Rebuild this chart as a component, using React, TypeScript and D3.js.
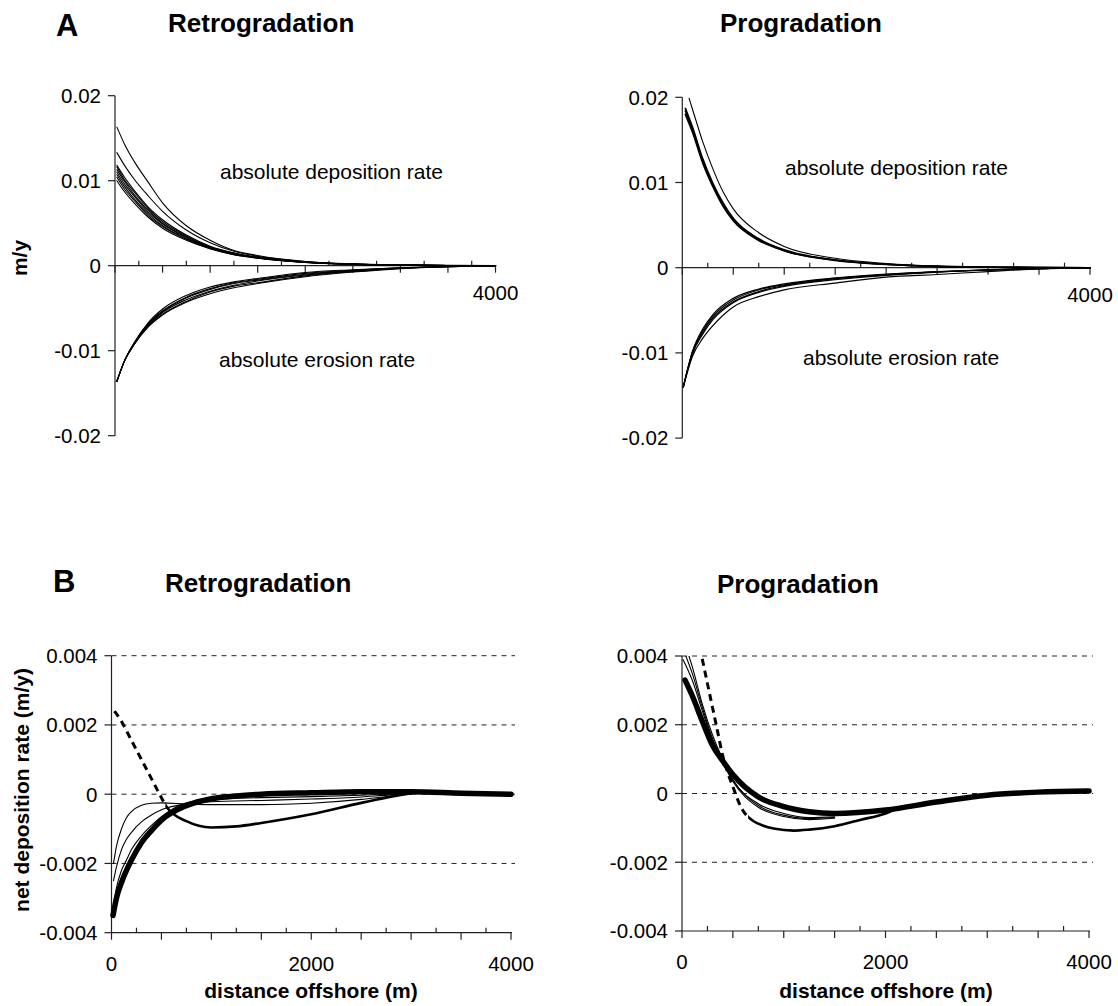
import * as d3 from "d3";
import React from "react";

const FONT = "'Liberation Sans', Arial, Helvetica, sans-serif";
const W = 1118;
const H = 1006;

// ---------- A: absolute rates (m/y) ----------
// retrogradation, deposition
const retroDepX = [20, 100, 200, 350, 500, 750, 1000, 1250, 1500, 2000, 2500, 3000, 3500, 4000];
const retroDep = [
  [0.0163, 0.0143, 0.0123, 0.0098, 0.0074, 0.0047, 0.003, 0.0018, 0.0012, 0.0005, 0.00022, 0.0001, 0.00004, 0.00001],
  [0.0133, 0.0118, 0.0102, 0.0082, 0.0064, 0.0042, 0.0027, 0.0017, 0.0011, 0.0005, 0.0002, 0.00009, 0.00003, 0.00001],
  [0.0118, 0.0104, 0.0089, 0.0069, 0.0054, 0.0036, 0.0023, 0.0015, 0.001, 0.00044, 0.00019, 0.00008, 0.00003, 0],
  [0.0116, 0.0101, 0.0087, 0.0067, 0.0052, 0.0035, 0.0022, 0.0015, 0.00097, 0.00042, 0.00018, 0.00008, 0.00003, 0],
  [0.0113, 0.0099, 0.0084, 0.0065, 0.005, 0.0034, 0.0022, 0.0014, 0.00095, 0.00041, 0.00018, 0.00008, 0.00003, 0],
  [0.011, 0.0096, 0.0082, 0.0063, 0.0049, 0.0033, 0.0021, 0.0014, 0.00093, 0.0004, 0.00017, 0.00008, 0.00003, 0],
  [0.0107, 0.0093, 0.0079, 0.0061, 0.0047, 0.0032, 0.0021, 0.0014, 0.0009, 0.0004, 0.00017, 0.00007, 0.00003, 0],
  [0.0104, 0.009, 0.0077, 0.0059, 0.0046, 0.0031, 0.002, 0.0013, 0.0009, 0.00039, 0.00016, 0.00007, 0.00002, 0],
  [0.01, 0.0087, 0.0074, 0.0057, 0.0044, 0.003, 0.002, 0.0013, 0.00088, 0.00038, 0.00016, 0.00007, 0.00002, 0],
];
// retrogradation, erosion
const retroEro = [
  [-0.0136, -0.0112, -0.0091, -0.0067, -0.0051, -0.0035, -0.0025, -0.0019, -0.0015, -0.0008, -0.00048, -0.00024, -0.0001, 0],
  [-0.0136, -0.0112, -0.0091, -0.0068, -0.0053, -0.0037, -0.0027, -0.002, -0.0016, -0.0009, -0.00053, -0.00026, -0.0001, 0],
  [-0.0136, -0.0112, -0.0092, -0.0069, -0.0054, -0.0038, -0.0028, -0.0021, -0.0017, -0.001, -0.00058, -0.00028, -0.00011, 0],
  [-0.0136, -0.0112, -0.0092, -0.007, -0.0055, -0.004, -0.003, -0.0023, -0.0018, -0.0011, -0.00064, -0.0003, -0.00011, 0],
  [-0.0136, -0.0112, -0.0093, -0.0071, -0.0057, -0.0042, -0.0031, -0.0024, -0.002, -0.0012, -0.0007, -0.00032, -0.00012, 0],
  [-0.0136, -0.0112, -0.0093, -0.0072, -0.0058, -0.0043, -0.0033, -0.0026, -0.0021, -0.0013, -0.00075, -0.00034, -0.00012, 0],
];
// progradation, deposition
const progDepX = [30, 100, 200, 300, 400, 500, 750, 1000, 1500, 2000, 2500, 3000, 3500, 4000];
const progDep = [
  [0.0187, 0.0165, 0.0128, 0.0099, 0.0076, 0.0058, 0.0034, 0.0021, 0.0009, 0.0004, 0.00015, 0.00006, 0.00002, 0],
  [0.0184, 0.0162, 0.0126, 0.0097, 0.0074, 0.0057, 0.0033, 0.002, 0.0009, 0.0004, 0.00015, 0.00006, 0.00002, 0],
  [0.018, 0.0159, 0.0123, 0.0095, 0.0072, 0.0055, 0.0032, 0.002, 0.00085, 0.00038, 0.00014, 0.00005, 0.00002, 0],
];
const progDepThinX = [66, 100, 200, 300, 400, 500, 750, 1000, 1500, 2000, 2500, 3000, 3500, 4000];
const progDepThin = [0.0199, 0.0186, 0.0148, 0.0116, 0.0089, 0.0069, 0.0041, 0.0025, 0.0011, 0.0005, 0.0002, 0.00007, 0.00002, 0];
// progradation, erosion
const progEroX = [10, 100, 200, 300, 500, 750, 1000, 1500, 2000, 2500, 3000, 3500, 4000];
const progEro = [
  [-0.014, -0.0098, -0.0072, -0.0055, -0.0036, -0.0025, -0.0019, -0.0012, -0.00075, -0.00045, -0.00024, -0.0001, 0],
  [-0.014, -0.0099, -0.0074, -0.0057, -0.0038, -0.0026, -0.002, -0.00125, -0.0008, -0.00048, -0.00025, -0.0001, 0],
  [-0.014, -0.01, -0.0076, -0.0059, -0.004, -0.0028, -0.0021, -0.0013, -0.00085, -0.0005, -0.00027, -0.0001, 0],
  [-0.014, -0.0101, -0.0078, -0.0061, -0.0041, -0.0029, -0.0022, -0.0014, -0.0009, -0.00052, -0.00028, -0.0001, 0],
  [-0.014, -0.0104, -0.0083, -0.0068, -0.0046, -0.0034, -0.0026, -0.0018, -0.0011, -0.0008, -0.00045, -0.00015, 0],
];

// ---------- B: net deposition rate (m/y) ----------
const retroNetX = [15, 50, 100, 200, 300, 400, 500, 750, 1000, 1250, 1500, 2000, 2500, 3000, 3500, 4000];
const retroNetThick = [-0.0035, -0.003, -0.00255, -0.0019, -0.0014, -0.00105, -0.00075, -0.00033, -0.00013, -0.00005, 0, 0.00004, 0.00007, 0.00007, 0.00003, 0];
const retroThinX = [20, 50, 100, 150, 200, 300, 400, 500, 750, 1000, 1500, 2000, 2500, 2800, 3000];
const retroThin = [
  [-0.002, -0.0015, -0.001, -0.00068, -0.0005, -0.00032, -0.00026, -0.00025, -0.00028, -0.0003, -0.0003, -0.00026, -0.00015, -0.00005, 0],
  [-0.0025, -0.0021, -0.0016, -0.0013, -0.0011, -0.0008, -0.0006, -0.00045, -0.00028, -0.00022, -0.00018, -0.00014, -0.00008, -0.00002, 0],
  [-0.0032, -0.0027, -0.0022, -0.0019, -0.0016, -0.0012, -0.0009, -0.00065, -0.00025, -0.00015, -0.0001, -0.00007, -0.00003, 0, 0],
];
// dashed near shore, solid further out
const retroDipX = [30, 100, 200, 300, 400, 500, 560, 750, 1000, 1250, 1500, 2000, 2500, 2750, 3000];
const retroDip = [0.0024, 0.0021, 0.00155, 0.001, 0.00045, -0.0001, -0.0004, -0.00078, -0.00096, -0.00093, -0.00083, -0.00058, -0.00025, -0.0001, 0.00003];

const progNetX = [30, 100, 200, 300, 400, 500, 750, 1000, 1250, 1500, 2000, 2500, 3000, 3500, 4000];
const progNetThick = [0.0033, 0.00285, 0.0021, 0.0014, 0.00095, 0.00055, -0.0001, -0.00038, -0.00053, -0.00058, -0.00048, -0.00025, -0.00005, 0.00004, 0.00007];
const progThinX = [10, 100, 200, 300, 400, 500, 750, 1000, 1250, 1500];
const progThin = [
  [0.0045, 0.0037, 0.0026, 0.0017, 0.001, 0.0004, -0.0003, -0.00058, -0.0007, -0.00068],
  [0.0042, 0.0035, 0.0025, 0.0016, 0.00095, 0.0004, -0.00035, -0.00063, -0.00073, -0.0007],
  [0.0039, 0.0033, 0.0024, 0.00155, 0.0009, 0.00035, -0.0004, -0.00067, -0.00076, -0.00072],
];
const progDipX = [150, 250, 300, 350, 400, 450, 500, 550, 600, 650, 700, 800, 900, 1100, 1250, 1500, 1750, 2000, 2100];
const progDip = [0.0046, 0.0032, 0.0025, 0.0018, 0.0011, 0.0006, 0.0002, -0.0002, -0.0005, -0.00068, -0.0008, -0.00094, -0.00102, -0.00108, -0.00105, -0.00095, -0.00077, -0.00058, -0.00046];

const absTicks = [0.02, 0.01, 0, -0.01, -0.02];
const netTicks = [0.004, 0.002, 0, -0.002, -0.004];
const netGrid = [0.004, 0.002, 0, -0.002];
const xMinor = d3.range(0, 4001, 250);

type Line = { xs: number[]; ys: number[]; w: number; dashUntil?: number };

type PanelProps = {
  id: string;
  x0: number;
  x1: number;
  yTop: number;
  yBot: number;
  yMax: number;
  yMin: number;
  yTicks: number[];
  fmt: (v: number) => string;
  xLabels: number[];
  xLabelDy: number;
  axisAtZero: boolean;
  grid: number[];
  lines: Line[];
};

const fmtAbs = (v: number) => (v === 0 ? "0" : d3.format(".2f")(v).replace("−", "-"));
const fmtNet = (v: number) => (v === 0 ? "0" : d3.format(".3f")(v).replace("−", "-"));

const Panel = (p: PanelProps) => {
  const x = d3.scaleLinear().domain([0, 4000]).range([p.x0, p.x1]);
  const y = d3.scaleLinear().domain([p.yMin, p.yMax]).range([p.yBot, p.yTop]);
  const axisY = p.axisAtZero ? y(0) : y(p.yMin);
  const line = d3
    .line<[number, number]>()
    .x((d) => x(d[0]))
    .y((d) => y(d[1]))
    .curve(d3.curveMonotoneX);

  return (
    <g>
      <defs>
        <clipPath id={p.id}>
          <rect x={p.x0 - 2} y={p.yTop} width={p.x1 - p.x0 + 12} height={p.yBot - p.yTop} />
        </clipPath>
        {p.lines.map((l, i) =>
          l.dashUntil !== undefined ? (
            <React.Fragment key={"c" + i}>
              <clipPath id={`${p.id}-d${i}`}>
                <rect x={p.x0 - 10} y={0} width={x(l.dashUntil) - p.x0 + 10} height={H} />
              </clipPath>
              <clipPath id={`${p.id}-s${i}`}>
                <rect x={x(l.dashUntil)} y={0} width={p.x1 - x(l.dashUntil) + 20} height={H} />
              </clipPath>
            </React.Fragment>
          ) : null
        )}
      </defs>
      {/* dashed gridlines */}
      {p.grid.map((g) => (
        <line key={"g" + g} x1={p.x0} x2={p.x1 + 4} y1={y(g)} y2={y(g)} stroke="#222" strokeWidth={1} strokeDasharray="5,5" />
      ))}
      {/* y axis */}
      <line x1={p.x0} x2={p.x0} y1={y(p.yMax)} y2={y(p.yMin)} stroke="#222" strokeWidth={1.2} />
      {p.yTicks.map((t) => (
        <g key={"yt" + t}>
          <line x1={p.x0 - 7} x2={p.x0} y1={y(t)} y2={y(t)} stroke="#222" strokeWidth={1.2} />
          <text x={p.x0 - 14} y={y(t)} dy="0.36em" textAnchor="end" fontSize={20.5} fontFamily={FONT}>
            {p.fmt(t)}
          </text>
        </g>
      ))}
      {/* x axis */}
      <line x1={p.x0} x2={p.x1 + 1} y1={axisY} y2={axisY} stroke="#222" strokeWidth={1.2} />
      {xMinor.map((v) =>
        v % 500 === 0 ? (
          <line key={"xt" + v} x1={x(v)} x2={x(v)} y1={axisY} y2={axisY + 7} stroke="#222" strokeWidth={1.2} />
        ) : (
          <line key={"xt" + v} x1={x(v)} x2={x(v)} y1={axisY - 5} y2={axisY} stroke="#222" strokeWidth={1.2} />
        )
      )}
      {p.xLabels.map((v) => (
        <text key={"xl" + v} x={x(v)} y={axisY + p.xLabelDy} textAnchor="middle" fontSize={20.5} fontFamily={FONT}>
          {v}
        </text>
      ))}
      {/* curves */}
      <g clipPath={`url(#${p.id})`}>
        {p.lines.map((l, i) => {
          const d = line(l.xs.map((xv, j) => [xv, l.ys[j]] as [number, number])) || "";
          if (l.dashUntil === undefined) {
            return (
              <path key={"l" + i} d={d} fill="none" stroke="#000" strokeWidth={l.w}
                strokeLinecap="round" strokeLinejoin="round" />
            );
          }
          return (
            <g key={"l" + i}>
              <path d={d} fill="none" stroke="#000" strokeWidth={3} strokeDasharray="7,5"
                clipPath={`url(#${p.id}-d${i})`} />
              <path d={d} fill="none" stroke="#000" strokeWidth={l.w} strokeLinecap="round"
                clipPath={`url(#${p.id}-s${i})`} />
            </g>
          );
        })}
      </g>
    </g>
  );
};

const bold = { fontFamily: FONT, fontWeight: 700 } as const;
const plain = { fontFamily: FONT } as const;

export default function App() {
  const tlLines: Line[] = [
    ...retroDep.map((ys) => ({ xs: retroDepX, ys, w: 1.1 })),
    ...retroEro.map((ys) => ({ xs: retroDepX, ys, w: 1.1 })),
  ];
  const trLines: Line[] = [
    ...progDep.map((ys) => ({ xs: progDepX, ys, w: 1.6 })),
    { xs: progDepThinX, ys: progDepThin, w: 1.1 },
    ...progEro.map((ys) => ({ xs: progEroX, ys, w: 1.2 })),
  ];
  const blLines: Line[] = [
    ...retroThin.map((ys) => ({ xs: retroThinX, ys, w: 1.1 })),
    { xs: retroDipX, ys: retroDip, w: 2.6, dashUntil: 540 },
    { xs: retroNetX, ys: retroNetThick, w: 5.5 },
  ];
  const brLines: Line[] = [
    ...progThin.map((ys) => ({ xs: progThinX, ys, w: 1.1 })),
    { xs: progDipX, ys: progDip, w: 2.6, dashUntil: 650 },
    { xs: progNetX, ys: progNetThick, w: 5.5 },
  ];

  return (
    <svg width={W} height={H} style={{ position: "absolute", left: 0, top: 0, background: "#fff" }}>
      <rect width={W} height={H} fill="#fff" />

      {/* panel titles */}
      <text x={56} y={36} fontSize={31} {...bold}>A</text>
      <text x={168} y={32} fontSize={26} {...bold}>Retrogradation</text>
      <text x={720} y={32} fontSize={26} {...bold}>Progradation</text>
      <text x={53} y={592} fontSize={31} {...bold}>B</text>
      <text x={165} y={592} fontSize={26} {...bold}>Retrogradation</text>
      <text x={717} y={593} fontSize={26} {...bold}>Progradation</text>

      <Panel
        id="clipTL"
        x0={115}
        x1={495.5}
        yTop={95.7}
        yBot={435.7}
        yMax={0.02}
        yMin={-0.02}
        yTicks={absTicks}
        fmt={fmtAbs}
        xLabels={[4000]}
        xLabelDy={34}
        axisAtZero={true}
        grid={[]}
        lines={tlLines}
      />
      <Panel
        id="clipTR"
        x0={682.3}
        x1={1090}
        yTop={97.3}
        yBot={438.1}
        yMax={0.02}
        yMin={-0.02}
        yTicks={absTicks}
        fmt={fmtAbs}
        xLabels={[4000]}
        xLabelDy={34}
        axisAtZero={true}
        grid={[]}
        lines={trLines}
      />
      <Panel
        id="clipBL"
        x0={111.5}
        x1={511}
        yTop={655.7}
        yBot={932.7}
        yMax={0.004}
        yMin={-0.004}
        yTicks={netTicks}
        fmt={fmtNet}
        xLabels={[0, 2000, 4000]}
        xLabelDy={38}
        axisAtZero={false}
        grid={netGrid}
        lines={blLines}
      />
      <Panel
        id="clipBR"
        x0={682}
        x1={1089}
        yTop={656}
        yBot={931}
        yMax={0.004}
        yMin={-0.004}
        yTicks={netTicks}
        fmt={fmtNet}
        xLabels={[0, 2000, 4000]}
        xLabelDy={38}
        axisAtZero={false}
        grid={netGrid}
        lines={brLines}
      />

      {/* annotations */}
      <text x={220} y={179} fontSize={21} {...plain}>absolute deposition rate</text>
      <text x={219} y={367} fontSize={21} {...plain}>absolute erosion rate</text>
      <text x={785} y={175} fontSize={21} {...plain}>absolute deposition rate</text>
      <text x={803} y={365} fontSize={21} {...plain}>absolute erosion rate</text>

      {/* axis titles */}
      <text transform="translate(27,258) rotate(-90)" textAnchor="middle" fontSize={21} {...bold}>m/y</text>
      <text transform="translate(29,790) rotate(-90)" textAnchor="middle" fontSize={21} {...bold}>
        net deposition rate (m/y)
      </text>
      <text x={311} y={998} textAnchor="middle" fontSize={21} {...bold}>distance offshore (m)</text>
      <text x={886} y={998} textAnchor="middle" fontSize={21} {...bold}>distance offshore (m)</text>
    </svg>
  );
}
